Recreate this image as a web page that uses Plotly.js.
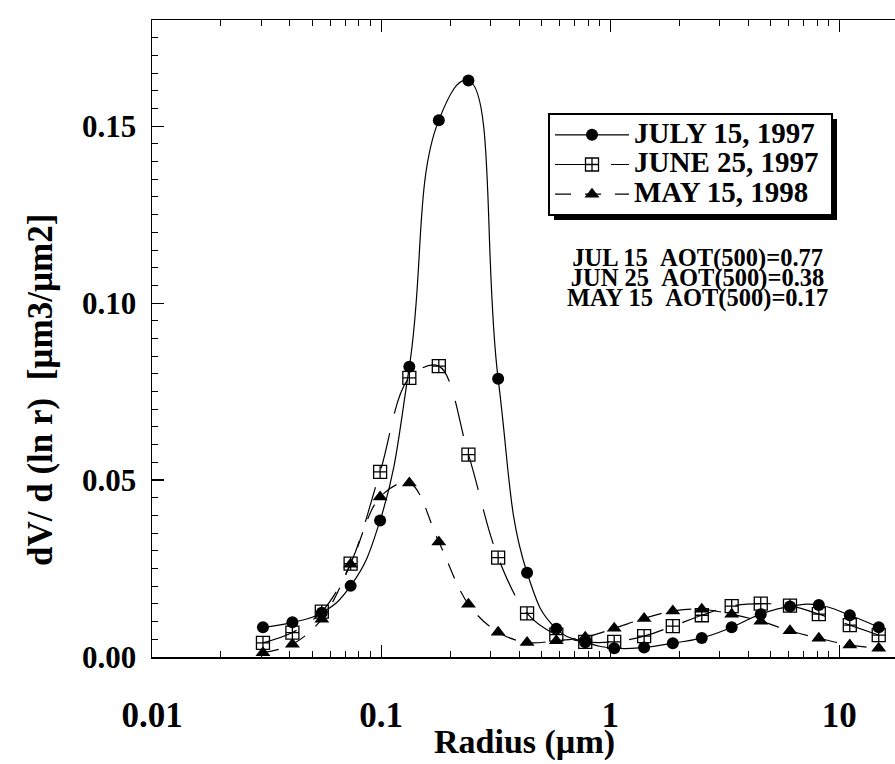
<!DOCTYPE html>
<html>
<head>
<meta charset="utf-8">
<script src="https://cdn.plot.ly/plotly-3.0.1.min.js"></script>
<style>html,body{margin:0;padding:0;background:#fff;}#chart{width:895px;height:764px;}</style>
</head>
<body>
<div id="chart"></div>
<script>
// Radius bins (µm)
const radius = [0.0305, 0.0410, 0.0551, 0.0736, 0.0990, 0.1328, 0.1786, 0.2405, 0.3242, 0.4336, 0.5817,
                0.778, 1.041, 1.406, 1.876, 2.51, 3.39, 4.54, 6.09, 8.14, 11.11, 14.86];
// dV/d(ln r) series
const july15_1997 = [0.0084, 0.0098, 0.0125, 0.0201, 0.0386, 0.0820, 0.1517, 0.1629, 0.0786, 0.0238, 0.0080,
                     0.0042, 0.0025, 0.0027, 0.0039, 0.0054, 0.0084, 0.0121, 0.0143, 0.0147, 0.0118, 0.0084];
const june25_1997 = [0.0040, 0.0069, 0.0128, 0.0264, 0.0523, 0.0789, 0.0822, 0.0572, 0.0281, 0.0123, 0.0063,
                     0.0043, 0.0043, 0.0059, 0.0087, 0.0118, 0.0144, 0.0151, 0.0145, 0.0121, 0.0090, 0.0062];
const may15_1998  = [0.0012, 0.0036, 0.0107, 0.0262, 0.0452, 0.0492, 0.0325, 0.0149, 0.0070, 0.0041, 0.0046,
                     0.0056, 0.0081, 0.0109, 0.0130, 0.0135, 0.0121, 0.0101, 0.0074, 0.0053, 0.0034, 0.0025];
const seriesNames = ['JULY 15, 1997', 'JUNE 25, 1997', 'MAY 15, 1998'];
const aotLines = ['JUL 15\u00a0\u00a0AOT(500)=0.77', 'JUN 25\u00a0\u00a0AOT(500)=0.38', 'MAY 15\u00a0\u00a0AOT(500)=0.17'];
const xTitle = 'Radius (\u00b5m)';
const yTitle = 'dV/ d (ln r)\u00a0\u00a0[\u00b5m3/\u00b5m2]';

const FONT = 'Liberation Serif, Times New Roman, serif';
const big = (t, s) => '<span style="font-size:' + s + 'px">' + t + '</span>';

const traces = [
  {x: radius, y: july15_1997, name: big(seriesNames[0] + '\u00a0', 29), type: 'scatter', mode: 'lines+markers',
   line: {shape: 'spline', smoothing: 1.3, color: '#000', width: 1.2},
   marker: {symbol: 'circle', size: 12, color: '#000'}},
  {x: radius, y: june25_1997, name: big(seriesNames[1] + '\u00a0', 29), type: 'scatter', mode: 'lines+markers',
   line: {shape: 'spline', smoothing: 1, color: '#000', width: 1.2, dash: '36px,20px'},
   marker: {symbol: 'square-cross-open', size: 13, color: '#000', line: {width: 1.3, color: '#000'}}},
  {x: radius, y: may15_1998, name: big(seriesNames[2] + '\u00a0', 29), type: 'scatter', mode: 'lines+markers',
   line: {shape: 'spline', smoothing: 1, color: '#000', width: 1.2, dash: '16px,14px'},
   marker: {symbol: 'triangle-up', size: 13, color: '#000'}}
];

const L = 152, T = 20, B = 107, W = 895, H = 764;
const plotW = W - L, plotH = H - T - B;
const px2x = p => (p - L) / plotW;
const px2y = p => (H - B - p) / plotH;

const annotations = [{
  xref: 'paper', yref: 'paper', x: px2x(697), y: px2y(278),
  xanchor: 'center', yanchor: 'middle', showarrow: false, align: 'center',
  text: aotLines.map(t => big(t, 24.5)).join('<br>'),
  font: {family: FONT, size: 15.4, color: '#000', weight: 'bold'}
}, {
  xref: 'paper', yref: 'paper', x: px2x(524), y: px2y(742), xanchor: 'center', yanchor: 'middle',
  showarrow: false, text: xTitle, font: {family: FONT, size: 34, color: '#000', weight: 'bold'}
}, {
  xref: 'paper', yref: 'paper', x: px2x(40), y: px2y(390), xanchor: 'center', yanchor: 'middle',
  showarrow: false, textangle: -90, text: yTitle, font: {family: FONT, size: 35, color: '#000', weight: 'bold'}
}];

const layout = {
  width: W, height: H,
  margin: {l: L, r: 0, t: T, b: B, pad: 0},
  paper_bgcolor: '#fff', plot_bgcolor: '#fff',
  showlegend: true,
  legend: {
    x: px2x(548), y: px2y(113), xanchor: 'left', yanchor: 'top',
    bgcolor: '#fff', bordercolor: '#000', borderwidth: 2,
    font: {family: FONT, size: 20.5, color: '#000', weight: 'bold'},
    itemwidth: 74, tracegroupgap: 0
  },
  xaxis: {
    type: 'log', range: [-2, Math.log10(17.5)], dtick: 1,
    showline: true, linecolor: '#000', linewidth: 1.5, mirror: 'ticks',
    ticks: 'inside', ticklen: 12, tickwidth: 1.2, tickcolor: '#000',
    minor: {dtick: 'D1', ticks: 'inside', ticklen: 6, tickwidth: 1, tickcolor: '#000', showgrid: false},
    showgrid: false, zeroline: false,
    tickfont: {family: FONT, size: 35, color: '#000', weight: 'bold'},
    ticklabelstandoff: 26
  },
  yaxis: {
    range: [0, 0.18], dtick: 0.05, tickformat: '.2f',
    showline: true, linecolor: '#000', linewidth: 1.5, mirror: false,
    ticks: 'inside', ticklen: 12, tickwidth: 1.2, tickcolor: '#000',
    minor: {dtick: 0.005, ticks: 'inside', ticklen: 6, tickwidth: 1, tickcolor: '#000', showgrid: false},
    showgrid: false, zeroline: false,
    tickfont: {family: FONT, size: 31, color: '#000', weight: 'bold'},
    ticklabelstandoff: 8
  },
  annotations: annotations
};

Plotly.newPlot('chart', traces, layout, {displayModeBar: false, staticPlot: true}).then(gd => {
  const bg = gd.querySelector('.legend .bg');
  if (!bg) return;
  const r = bg.getBoundingClientRect();
  const c = gd.getBoundingClientRect();
  const x0 = r.left - c.left, y0 = r.top - c.top, x1 = r.right - c.left, y1 = r.bottom - c.top;
  const off = 5;
  return Plotly.relayout(gd, {shapes: [{
    type: 'rect', xref: 'paper', yref: 'paper', layer: 'above',
    x0: px2x(x0 + off), x1: px2x(x1 + off), y0: px2y(y1 + off), y1: px2y(y0 + off),
    fillcolor: '#000', line: {width: 0}
  }]});
});
</script>
</body>
</html>
